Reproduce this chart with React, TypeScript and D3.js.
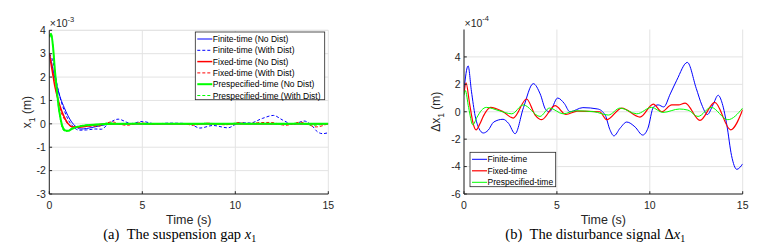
import * as d3 from "d3";

// ---- panel (a): suspension gap x1, units of 1e-3 m ----
const finiteNoT = [0, 0.15, 0.3, 0.45, 0.6, 0.8, 1.0, 1.2, 1.4, 1.7, 2.0, 2.5, 3.0, 3.5, 5, 8, 12, 15];
const finiteNoV = [3.0, 2.5, 1.95, 1.5, 1.1, 0.7, 0.35, 0.08, -0.1, -0.22, -0.2, -0.12, -0.04, 0.0, 0.0, 0.0, 0.0, 0.0];

const finiteDistT = [0, 0.2, 0.4, 0.6, 0.8, 1.0, 1.3, 1.6, 2.0, 2.5, 2.8, 3.2, 3.7, 4.4, 5.0, 5.7, 6.4, 7.2, 7.6, 8.1, 8.8, 9.6, 10.2, 10.5, 10.8, 11.45, 12.05, 12.55, 13.1, 13.7, 14.15, 14.4, 14.7, 15];
const finiteDistV = [3.0, 2.65, 1.75, 1.06, 0.58, 0.2, -0.13, -0.27, -0.26, -0.22, -0.23, 0.02, 0.2, 0.015, 0.1, 0.0, 0.03, 0.02, -0.02, -0.18, -0.07, -0.17, 0.04, 0.05, 0.035, 0.23, 0.36, 0.16, -0.02, 0.12, -0.1, -0.33, -0.42, -0.38];

const fixedNoT = [0, 0.15, 0.3, 0.45, 0.6, 0.8, 1.0, 1.2, 1.5, 2.0, 2.5, 3.0, 4.0, 8, 15];
const fixedNoV = [3.0, 2.3, 1.6, 1.1, 0.7, 0.3, 0.02, -0.12, -0.15, -0.1, -0.05, -0.01, 0.0, 0.0, 0.0];

const fixedDistT = [0, 0.1, 0.3, 0.5, 0.65, 0.85, 1.05, 1.2, 1.45, 2.1, 2.65, 3.0, 3.37, 3.8, 4.18, 4.9, 5.5, 6.1, 7.3, 7.68, 8.5, 9.47, 10.2, 10.65, 11.2, 11.9, 12.7, 13.5, 14.35, 15];
const fixedDistV = [3.0, 2.7, 1.65, 0.9, 0.47, 0.15, -0.05, -0.12, -0.12, -0.1, -0.1, 0.0, 0.09, -0.02, -0.06, 0.045, -0.02, 0.005, 0.0, -0.06, 0.03, -0.04, 0.055, 0.0, 0.05, 0.06, -0.06, 0.07, -0.13, 0.015];

const preNoT = [0, 0.1, 0.2, 0.3, 0.4, 0.5, 0.6, 0.7, 0.85, 1.0, 1.2, 1.5, 2.0, 2.5, 3.0, 4.0, 8, 15];
const preNoV = [3.7, 3.85, 3.3, 2.3, 1.5, 0.75, 0.25, -0.1, -0.28, -0.3, -0.22, -0.13, -0.06, -0.03, -0.01, 0.0, 0.0, 0.0];

const preDistT = [0, 0.1, 0.2, 0.3, 0.4, 0.5, 0.6, 0.7, 0.85, 1.0, 1.2, 1.5, 2.0, 2.6, 3.2, 4.1, 4.6, 5.3, 6.0, 7.0, 7.8, 8.4, 9.3, 10.1, 10.7, 11.6, 12.6, 13.3, 14.2, 15];
const preDistV = [3.75, 3.88, 3.32, 2.28, 1.45, 0.68, 0.17, -0.18, -0.33, -0.3, -0.19, -0.11, -0.05, -0.05, 0.05, -0.03, 0.03, -0.015, 0.005, 0.0, -0.025, 0.027, -0.015, 0.03, -0.005, 0.02, -0.035, 0.03, -0.06, 0.027];

// ---- panel (b): disturbance signal, units of 1e-4 m ----
const dFiniteT = [0, 0.22, 0.4, 0.6, 0.8, 1.04, 1.3, 1.6, 2.1, 2.4, 2.75, 3.2, 3.73, 4.1, 4.4, 4.6, 5.04, 5.4, 5.7, 6.4, 7.2, 7.6, 7.85, 8.07, 8.4, 8.76, 9.2, 9.62, 9.9, 10.2, 10.45, 10.75, 11.1, 11.45, 12.02, 12.5, 12.8, 13.1, 13.4, 13.68, 13.9, 14.15, 14.4, 14.68, 15];
const dFiniteV = [1.6, 3.35, 1.5, -0.3, -1.2, -1.55, -1.35, -0.75, -0.55, -0.85, -1.6, 0.3, 2.05, 1.3, 0.15, 0.0, 1.0, 0.6, 0.0, 0.3, 0.2, -0.25, -1.3, -1.76, -1.2, -0.75, -1.1, -1.7, -1.2, 0.35, 0.5, 0.35, 1.3, 2.3, 3.6, 1.7, 0.5, -0.2, 0.5, 1.2, 0.6, -1.0, -3.2, -4.2, -3.8];

const dFixedT = [0, 0.11, 0.3, 0.5, 0.65, 0.85, 1.05, 1.43, 2.1, 2.65, 3.37, 3.82, 4.18, 4.9, 5.49, 6.1, 7.3, 7.68, 8.49, 9.47, 10.19, 10.64, 11.18, 11.55, 11.9, 12.7, 13.5, 14.35, 15];
const dFixedV = [1.3, 2.1, 0.6, -0.9, -1.32, -0.9, -0.3, 0.32, 0.0, -0.46, 0.93, -0.22, -0.58, 0.44, -0.2, 0.05, 0.0, -0.58, 0.27, -0.39, 0.56, 0.0, 0.5, 0.5, 0.63, -0.63, 0.68, -1.32, 0.15];

const dPreT = [0, 0.07, 0.25, 0.47, 0.7, 0.95, 1.2, 1.9, 2.57, 3.19, 4.09, 4.6, 5.34, 6.0, 7.0, 7.77, 8.4, 9.3, 10.1, 10.7, 11.6, 12.05, 12.6, 13.3, 14.2, 15];
const dPreV = [1.2, 1.55, 0.3, -0.95, -0.4, 0.12, 0.32, 0.07, -0.15, 0.5, -0.34, 0.27, -0.15, 0.07, 0.0, -0.24, 0.27, -0.15, 0.32, -0.05, 0.2, 0.12, -0.34, 0.32, -0.58, 0.27];

const xTicks = [0, 5, 10, 15];
const yTicksA = [-3, -2, -1, 0, 1, 2, 3, 4];
const yTicksB = [-6, -4, -2, 0, 2, 4];

const legendA = [
  "Finite-time (No Dist)",
  "Finite-time (With Dist)",
  "Fixed-time (No Dist)",
  "Fixed-time (With Dist)",
  "Prespecified-time (No Dist)",
  "Prespecified-time (With Dist)",
];
const legendB = ["Finite-time", "Fixed-time", "Prespecified-time"];

const BLUE = "#0000ff";
const RED = "#ff0000";
const GREEN = "#00ff00";
const AXIS = "#262626";
const GRID = "#e3e3e3";
const SANS = "Liberation Sans, Arial, sans-serif";
const SERIF = "Liberation Serif, Times New Roman, serif";

type Series = { t: number[]; v: number[]; color: string; width: number; dash?: string };

function Panel(props: {
  left: number;
  right: number;
  top: number;
  bottom: number;
  yDomain: [number, number];
  yTicks: number[];
  series: Series[];
  exponent: string;
  yLabelX: number;
  yLabelPrefix: string;
  topGrid: boolean;
}) {
  const { left, right, top, bottom, yDomain, yTicks, series } = props;
  const x = d3.scaleLinear().domain([0, 15]).range([left, right]);
  const y = d3.scaleLinear().domain(yDomain).range([bottom, top]);
  const line = (s: Series) =>
    d3
      .line<number>()
      .x((_, i) => x(s.t[i]))
      .y((d) => y(d))
      .curve(d3.curveMonotoneX)(s.v) || "";
  const clipId = `clip-${left}`;
  const gridY = props.topGrid ? yTicks.concat([yDomain[1]]) : yTicks;
  return (
    <g>
      <defs>
        <clipPath id={clipId}>
          <rect x={left} y={top} width={right - left} height={bottom - top} />
        </clipPath>
      </defs>
      {xTicks.map((t) => (
        <line key={"gx" + t} x1={x(t)} x2={x(t)} y1={top} y2={bottom} stroke={GRID} strokeWidth={1} />
      ))}
      {gridY.map((t) => (
        <line key={"gy" + t} x1={left} x2={right} y1={y(t)} y2={y(t)} stroke={GRID} strokeWidth={1} />
      ))}
      <g clipPath={`url(#${clipId})`}>
        {series.map((s, i) => (
          <path
            key={i}
            d={line(s)}
            fill="none"
            stroke={s.color}
            strokeWidth={s.width}
            strokeDasharray={s.dash}
          />
        ))}
      </g>
      <line x1={left} x2={left} y1={top} y2={bottom} stroke={AXIS} strokeWidth={1} />
      <line x1={left} x2={right} y1={bottom} y2={bottom} stroke={AXIS} strokeWidth={1} />
      {xTicks.map((t) => (
        <g key={"tx" + t}>
          <line x1={x(t)} x2={x(t)} y1={bottom} y2={bottom - 2.8} stroke={AXIS} />
          <text x={x(t)} y={bottom + 14.5} textAnchor="middle" fontSize={10.5} fontFamily={SANS} fill={AXIS}>
            {t}
          </text>
        </g>
      ))}
      {yTicks.map((t) => (
        <g key={"ty" + t}>
          <line x1={left} x2={left + 2.8} y1={y(t)} y2={y(t)} stroke={AXIS} />
          <text x={left - 3.5} y={y(t) + 3.8} textAnchor="end" fontSize={10.5} fontFamily={SANS} fill={AXIS}>
            {t}
          </text>
        </g>
      ))}
      <text x={left + 0.5} y={top - 3} fontSize={10.5} fontFamily={SANS} fill={AXIS}>
        ×10
        <tspan dy={-5.5} fontSize={7.5}>
          {props.exponent}
        </tspan>
      </text>
      <text x={(left + right) / 2} y={224.3} textAnchor="middle" fontSize={12.5} fontFamily={SANS} fill={AXIS}>
        Time (s)
      </text>
      <text
        transform={`translate(${props.yLabelX},${(top + bottom) / 2}) rotate(-90)`}
        textAnchor="middle"
        fontSize={12}
        fontFamily={SANS}
        fill={AXIS}
      >
        {props.yLabelPrefix}x
        <tspan dy={3.5} fontSize={8.5}>
          1
        </tspan>
        <tspan dy={-3.5}> (m)</tspan>
      </text>
    </g>
  );
}

function Legend(props: { x: number; y: number; w: number; h: number; items: string[]; styles: Series[]; step: number }) {
  return (
    <g>
      <rect x={props.x} y={props.y} width={props.w} height={props.h} fill="#fff" stroke="#262626" strokeWidth={0.8} />
      {props.items.map((label, i) => {
        const cy = props.y + 7 + i * props.step;
        const s = props.styles[i];
        return (
          <g key={label}>
            <line
              x1={props.x + 2}
              x2={props.x + 17}
              y1={cy}
              y2={cy}
              stroke={s.color}
              strokeWidth={s.width}
              strokeDasharray={s.dash}
            />
            <text x={props.x + 17.5} y={cy + 3} fontSize={8.5} fontFamily={SANS} fill="#000">
              {label}
            </text>
          </g>
        );
      })}
    </g>
  );
}

function Caption(props: { cx: number; tag: string; text: string }) {
  return (
    <text x={props.cx} y={239.3} textAnchor="middle" fontSize={14.5} fontFamily={SERIF} fill="#000">
      {props.tag}
      <tspan dx={4}>{props.text}</tspan>
      <tspan fontStyle="italic">x</tspan>
      <tspan dy={2.8} fontSize={10}>
        1
      </tspan>
    </text>
  );
}

export default function App() {
  const seriesA: Series[] = [
    { t: finiteNoT, v: finiteNoV, color: BLUE, width: 1 },
    { t: finiteDistT, v: finiteDistV, color: BLUE, width: 1, dash: "3,2" },
    { t: fixedNoT, v: fixedNoV, color: RED, width: 1.5 },
    { t: fixedDistT, v: fixedDistV, color: RED, width: 1, dash: "3,2" },
    { t: preNoT, v: preNoV, color: GREEN, width: 2 },
    { t: preDistT, v: preDistV, color: GREEN, width: 1, dash: "3,2" },
  ];
  const seriesB: Series[] = [
    { t: dFiniteT, v: dFiniteV, color: BLUE, width: 1 },
    { t: dFixedT, v: dFixedV, color: RED, width: 1.2 },
    { t: dPreT, v: dPreV, color: GREEN, width: 1 },
  ];
  return (
    <div style={{ position: "absolute", left: 0, top: 0 }}>
      <svg width={765} height={251} style={{ display: "block", background: "#fff" }}>
        <Panel
          left={49.3}
          right={328.3}
          top={30.3}
          bottom={194}
          yDomain={[-3, 4]}
          yTicks={yTicksA}
          series={seriesA}
          exponent="-3"
          yLabelX={31}
          yLabelPrefix=""
          topGrid={true}
        />
        <Legend x={195.3} y={32} w={129.4} h={67.7} items={legendA} styles={seriesA} step={11.3} />
        <Caption cx={179.7} tag="(a) " text="The suspension gap " />

        <Panel
          left={464}
          right={742.7}
          top={29.5}
          bottom={194}
          yDomain={[-6, 6]}
          yTicks={yTicksB}
          series={seriesB}
          exponent="-4"
          yLabelX={440}
          yLabelPrefix="Δ"
          topGrid={false}
        />
        <Legend x={470} y={152.3} w={85.7} h={34.4} items={legendB} styles={seriesB} step={11.5} />
        <Caption cx={595.3} tag="(b) " text="The disturbance signal Δ" />
      </svg>
    </div>
  );
}
